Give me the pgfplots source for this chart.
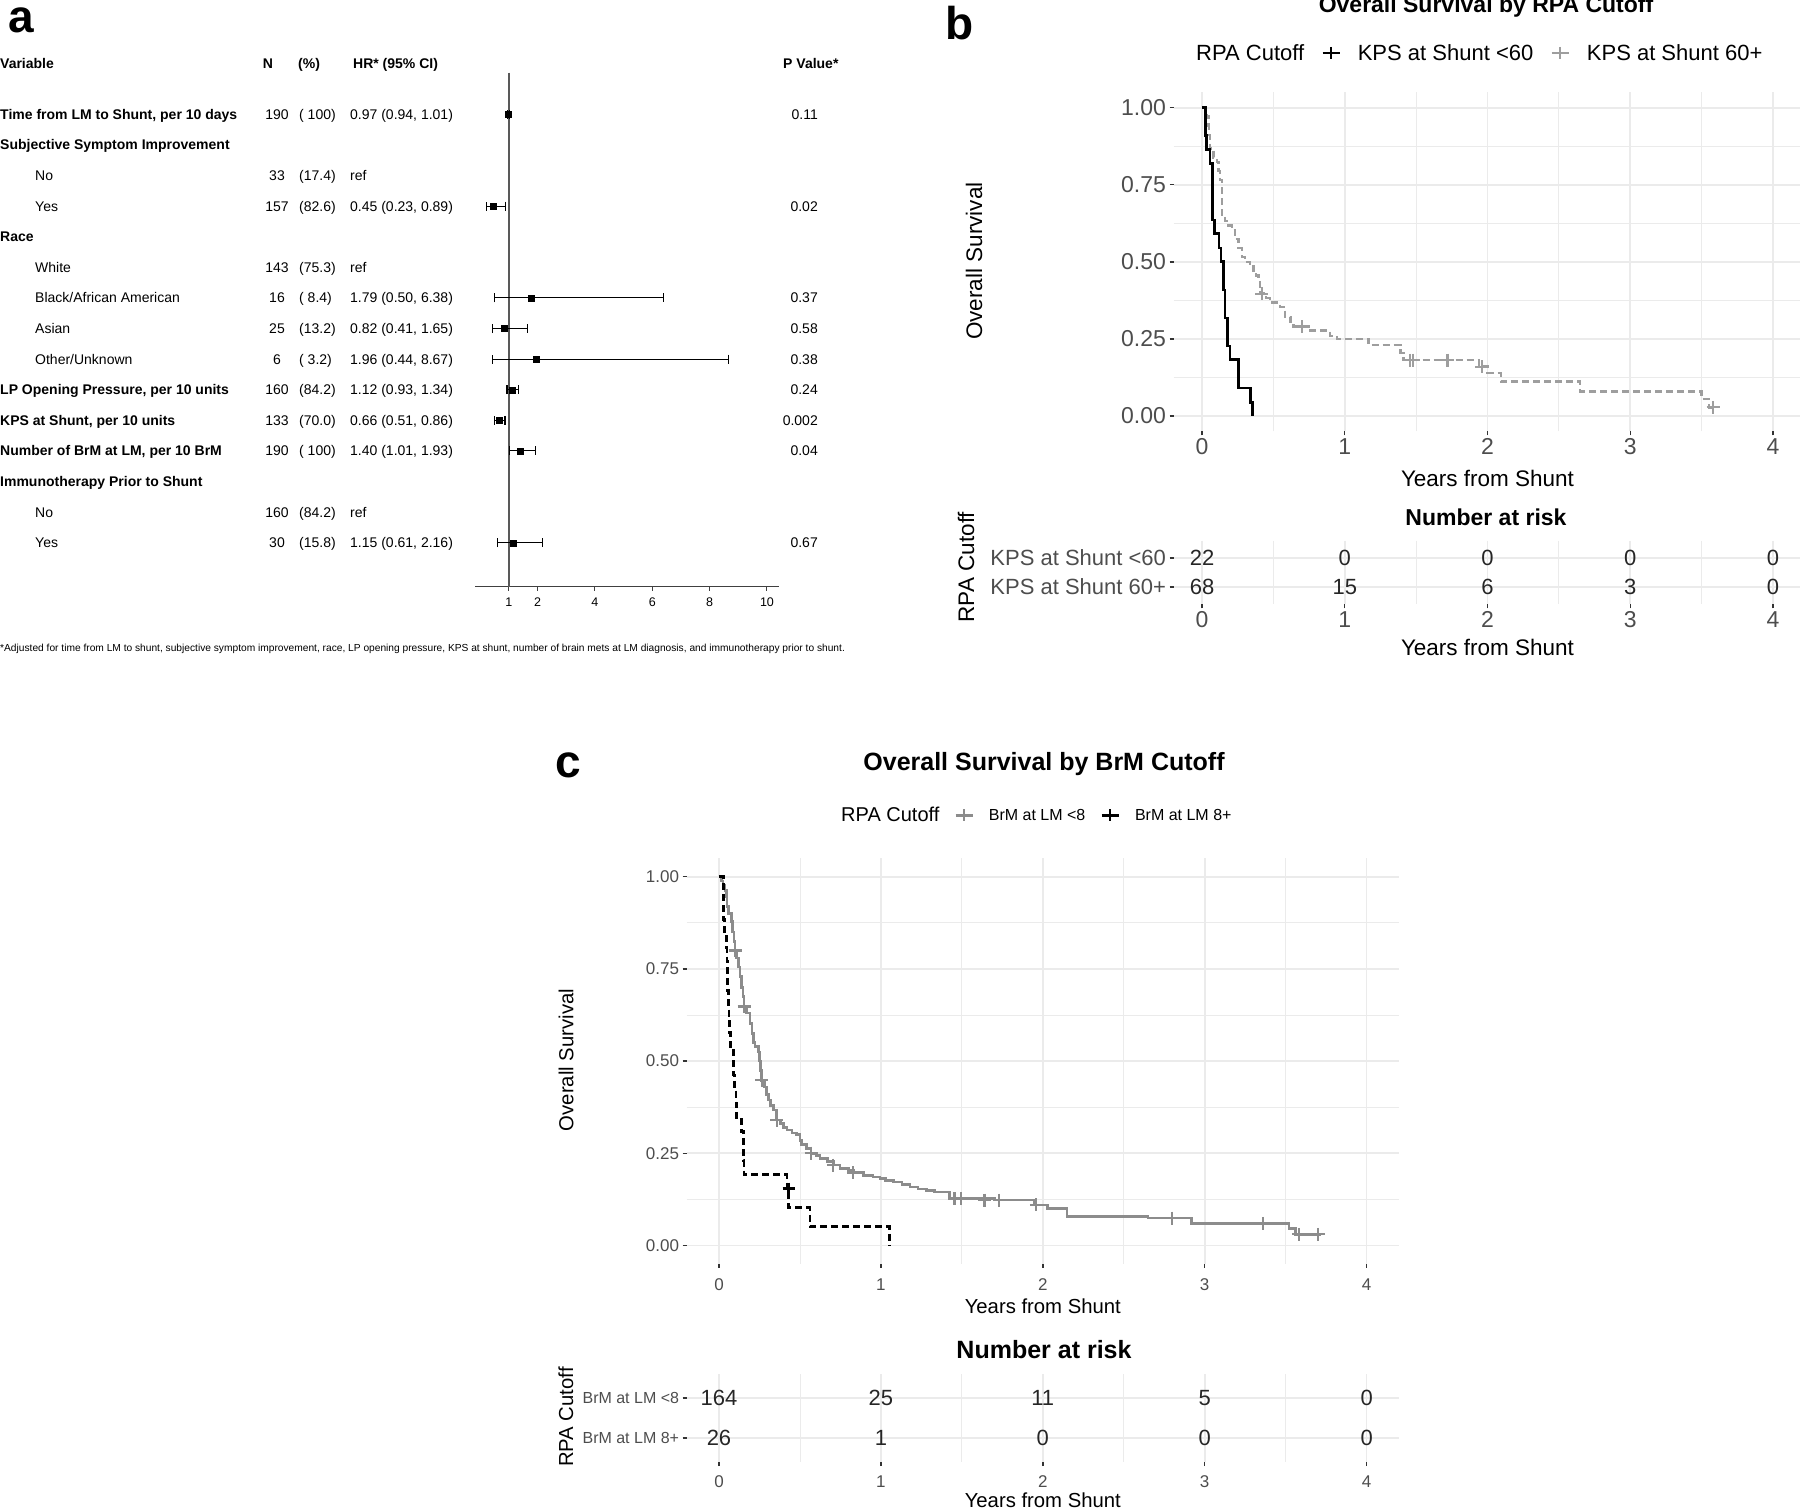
\documentclass[border=0pt]{standalone}
\usepackage{fontspec}
\setmainfont{Liberation Sans}
\usepackage{pgfplots}
\pgfplotsset{compat=1.18}
\usepackage{pgfplotstable}
\definecolor{gridc}{HTML}{EBEBEB}
\definecolor{gb}{HTML}{9E9E9E}
\definecolor{gc}{HTML}{8C8C8C}
\definecolor{axt}{HTML}{4D4D4D}
\newcommand\fs[1]{\fontsize{#1}{#1}\selectfont}

\pgfplotstableread{
hr row ep em
0.97 0 0.04 0.03
0.45 -3 0.44 0.22
1.79 -6 4.59 1.29
0.82 -7 0.83 0.41
1.96 -8 6.71 1.52
1.12 -9 0.22 0.19
0.66 -10 0.20 0.15
1.40 -11 0.53 0.39
1.15 -14 1.01 0.54
}\forestdata

\pgfplotstableread{
t s
0 1
0.026 0.909
0.033 0.864
0.056 0.818
0.072 0.636
0.086 0.591
0.119 0.545
0.133 0.500
0.150 0.409
0.161 0.318
0.178 0.227
0.196 0.182
0.255 0.091
0.337 0.045
0.355 0
}\kmbA

\pgfplotstableread{
t s
0 1
0.02 0.985
0.03 0.971
0.044 0.941
0.05 0.912
0.056 0.868
0.079 0.838
0.103 0.824
0.115 0.794
0.126 0.765
0.138 0.647
0.16 0.632
0.184 0.618
0.21 0.603
0.231 0.574
0.255 0.544
0.278 0.515
0.30 0.50
0.337 0.485
0.36 0.471
0.38 0.456
0.395 0.441
0.405 0.412
0.41 0.397
0.45 0.383
0.477 0.368
0.547 0.353
0.582 0.322
0.62 0.306
0.641 0.29
0.746 0.277
0.898 0.26
0.944 0.25
1.166 0.23
1.39 0.205
1.41 0.181
1.94 0.16
2.0 0.139
2.096 0.112
2.65 0.08
3.5 0.055
3.55 0.028
3.58 0.028
}\kmbB

\pgfplotstableread{
t s
0.418 0.397
0.70 0.29
1.457 0.181
1.48 0.181
1.72 0.181
1.96 0.16
3.58 0.028
}\kmbBc

\pgfplotstableread{
t s
0 1
0.015 0.988
0.025 0.976
0.037 0.963
0.045 0.945
0.05 0.92
0.058 0.90
0.078 0.878
0.085 0.85
0.092 0.825
0.099 0.80
0.11 0.78
0.12 0.755
0.13 0.73
0.14 0.70
0.148 0.675
0.155 0.648
0.17 0.63
0.192 0.602
0.205 0.575
0.215 0.55
0.222 0.539
0.243 0.525
0.25 0.50
0.257 0.475
0.264 0.448
0.28 0.43
0.295 0.41
0.305 0.394
0.32 0.38
0.336 0.367
0.357 0.34
0.38 0.33
0.40 0.32
0.419 0.313
0.45 0.305
0.48 0.30
0.50 0.285
0.511 0.273
0.54 0.262
0.569 0.25
0.60 0.243
0.624 0.236
0.67 0.227
0.706 0.218
0.747 0.209
0.80 0.203
0.83 0.197
0.891 0.19
0.95 0.185
0.994 0.181
1.03 0.176
1.076 0.172
1.13 0.165
1.179 0.158
1.23 0.153
1.28 0.149
1.33 0.145
1.425 0.127
1.70 0.123
1.95 0.11
2.03 0.10
2.15 0.079
2.65 0.074
2.92 0.06
3.52 0.045
3.56 0.03
3.72 0.03
}\kmcA

\pgfplotstableread{
t s
0.099 0.80
0.155 0.648
0.264 0.448
0.357 0.34
0.569 0.25
0.706 0.218
0.83 0.197
1.455 0.127
1.496 0.127
1.64 0.123
1.73 0.123
1.96 0.11
2.8 0.074
3.36 0.06
3.58 0.03
3.70 0.03
}\kmcAc

\pgfplotstableread{
t s
0 1
0.027 0.885
0.035 0.846
0.047 0.808
0.05 0.769
0.052 0.731
0.055 0.692
0.058 0.654
0.062 0.615
0.066 0.577
0.07 0.538
0.088 0.500
0.092 0.462
0.098 0.423
0.105 0.385
0.11 0.346
0.14 0.308
0.15 0.269
0.152 0.231
0.155 0.192
0.42 0.154
0.43 0.103
0.562 0.051
1.055 0
}\kmcB

\pgfplotstableread{
x y lab
0 1 22
1 1 0
2 1 0
3 1 0
4 1 0
0 2 68
1 2 15
2 2 6
3 2 3
4 2 0
}\riskb

\pgfplotstableread{
x y lab
0 1 164
1 1 25
2 1 11
3 1 5
4 1 0
0 2 26
1 2 1
2 2 0
3 2 0
4 2 0
}\riskc

\pgfplotsset{
  kmstyle/.style={scale only axis, anchor=south west, axis line style={draw=none},
    grid=both, major grid style={color=gridc, line width=1.6pt},
    minor grid style={color=gridc, line width=0.8pt},
    minor x tick num=1, minor y tick num=1, minor tick length=0pt,
    major tick length=4pt, tick align=outside, xtick pos=left, ytick pos=left,
    tick style={color=black!80, line width=1.4pt},
    xmin=-0.2, xmax=4.2, xtick={0,1,2,3,4}, xticklabels={0,1,2,3,4},
    clip=false, legend cell align=left},
}
\tikzset{tl/.style={anchor=base west, inner sep=0pt, font=\fs{14}},
  tlb/.style={anchor=base west, inner sep=0pt, font=\bfseries\fs{14}},
  tc/.style={anchor=base, inner sep=0pt, font=\fs{14}},
  tr/.style={anchor=base east, inner sep=0pt, font=\fs{14}}}

\begin{document}
\begin{tikzpicture}
\path[use as bounding box] (0pt,0pt) rectangle (1800pt,-1509pt);

% ---------------- panel a ----------------
\node[anchor=base west, inner sep=0pt, font=\bfseries\fs{46}] at (8pt,-33pt) {a};
\node[tlb] at (0pt,-68.3pt) {Variable};
\node[anchor=base, inner sep=0pt, font=\bfseries\fs{14}] at (268pt,-68.3pt) {N};
\node[tlb] at (298pt,-68.3pt) {(\%)};
\node[tlb] at (353pt,-68.3pt) {HR* (95\% CI)};
\node[tlb] at (783pt,-68.3pt) {P Value*};
% row 0
\node[tlb] at (0pt,-119.3pt) {Time from LM to Shunt, per 10 days};
\node[tc] at (277pt,-119.3pt) {190};
\node[tl] at (299pt,-119.3pt) {( 100)};
\node[tl] at (350pt,-119.3pt) {0.97 (0.94, 1.01)};
\node[tr] at (818pt,-119.3pt) {0.11};
% row 1
\node[tlb] at (0pt,-149.9pt) {Subjective Symptom Improvement};
% row 2
\node[tl] at (35pt,-180.5pt) {No};
\node[tc] at (277pt,-180.5pt) {33};
\node[tl] at (299pt,-180.5pt) {(17.4)};
\node[tl] at (350pt,-180.5pt) {ref};
% row 3
\node[tl] at (35pt,-211.1pt) {Yes};
\node[tc] at (277pt,-211.1pt) {157};
\node[tl] at (299pt,-211.1pt) {(82.6)};
\node[tl] at (350pt,-211.1pt) {0.45 (0.23, 0.89)};
\node[tr] at (818pt,-211.1pt) {0.02};
% row 4
\node[tlb] at (0pt,-241.7pt) {Race};
% row 5
\node[tl] at (35pt,-272.3pt) {White};
\node[tc] at (277pt,-272.3pt) {143};
\node[tl] at (299pt,-272.3pt) {(75.3)};
\node[tl] at (350pt,-272.3pt) {ref};
% row 6
\node[tl] at (35pt,-302.9pt) {Black/African American};
\node[tc] at (277pt,-302.9pt) {16};
\node[tl] at (299pt,-302.9pt) {( 8.4)};
\node[tl] at (350pt,-302.9pt) {1.79 (0.50, 6.38)};
\node[tr] at (818pt,-302.9pt) {0.37};
% row 7
\node[tl] at (35pt,-333.5pt) {Asian};
\node[tc] at (277pt,-333.5pt) {25};
\node[tl] at (299pt,-333.5pt) {(13.2)};
\node[tl] at (350pt,-333.5pt) {0.82 (0.41, 1.65)};
\node[tr] at (818pt,-333.5pt) {0.58};
% row 8
\node[tl] at (35pt,-364.1pt) {Other/Unknown};
\node[tc] at (277pt,-364.1pt) {6};
\node[tl] at (299pt,-364.1pt) {( 3.2)};
\node[tl] at (350pt,-364.1pt) {1.96 (0.44, 8.67)};
\node[tr] at (818pt,-364.1pt) {0.38};
% row 9
\node[tlb] at (0pt,-394.7pt) {LP Opening Pressure, per 10 units};
\node[tc] at (277pt,-394.7pt) {160};
\node[tl] at (299pt,-394.7pt) {(84.2)};
\node[tl] at (350pt,-394.7pt) {1.12 (0.93, 1.34)};
\node[tr] at (818pt,-394.7pt) {0.24};
% row 10
\node[tlb] at (0pt,-425.3pt) {KPS at Shunt, per 10 units};
\node[tc] at (277pt,-425.3pt) {133};
\node[tl] at (299pt,-425.3pt) {(70.0)};
\node[tl] at (350pt,-425.3pt) {0.66 (0.51, 0.86)};
\node[tr] at (818pt,-425.3pt) {0.002};
% row 11
\node[tlb] at (0pt,-455.9pt) {Number of BrM at LM, per 10 BrM};
\node[tc] at (277pt,-455.9pt) {190};
\node[tl] at (299pt,-455.9pt) {( 100)};
\node[tl] at (350pt,-455.9pt) {1.40 (1.01, 1.93)};
\node[tr] at (818pt,-455.9pt) {0.04};
% row 12
\node[tlb] at (0pt,-486.5pt) {Immunotherapy Prior to Shunt};
% row 13
\node[tl] at (35pt,-517.1pt) {No};
\node[tc] at (277pt,-517.1pt) {160};
\node[tl] at (299pt,-517.1pt) {(84.2)};
\node[tl] at (350pt,-517.1pt) {ref};
% row 14
\node[tl] at (35pt,-547.7pt) {Yes};
\node[tc] at (277pt,-547.7pt) {30};
\node[tl] at (299pt,-547.7pt) {(15.8)};
\node[tl] at (350pt,-547.7pt) {1.15 (0.61, 2.16)};
\node[tr] at (818pt,-547.7pt) {0.67};
\node[anchor=base west, inner sep=0pt, font=\fs{10.2}] at (0pt,-651.5pt) {*Adjusted for time from LM to shunt, subjective symptom improvement, race, LP opening pressure, KPS at shunt, number of brain mets at LM diagnosis, and immunotherapy prior to shunt.};

\begin{axis}[at={(475pt,-586.5pt)}, anchor=south west, scale only axis,
  width=304pt, height=513.8pt, xmin=-0.185, xmax=10.42, ymin=-15.43, ymax=1.36,
  axis x line=bottom, axis y line=none, x axis line style={-, line width=1.2pt, color=black!75},
  xtick={1,2,4,6,8,10}, xticklabels={1,2,4,6,8,10}, tick align=outside, major tick length=4pt,
  tick style={line width=1pt, color=black!75}, xticklabel style={font=\fs{12.5}, yshift=-4pt},
  clip=false]
\addplot[black!65, line width=1.3pt, forget plot] coordinates {(1,1.36) (1,-15.43)};
\addplot[only marks, mark=square*, mark size=3pt, black,
  error bars/.cd, x dir=both, x explicit, error mark=|,
  error bar style={line width=1.1pt, black},
  error mark options={line width=1.1pt, mark size=4.5pt, black}]
  table[x=hr, y=row, x error plus=ep, x error minus=em] {\forestdata};
\end{axis}

% ---------------- panel b ----------------
\node[anchor=base west, inner sep=0pt, font=\bfseries\fs{46}] at (945pt,-40pt) {b};
\begin{axis}[kmstyle, at={(1173.5pt,-431.4pt)}, width=628pt, height=339.1pt,
  ymin=-0.05, ymax=1.05, ytick={0,0.25,0.5,0.75,1}, yticklabels={0.00,0.25,0.50,0.75,1.00},
  ticklabel style={font=\fs{23}, text=axt},
  xlabel={Years from Shunt}, ylabel={Overall Survival}, label style={font=\fs{22.5}},
  xlabel style={at={(axis description cs:0.5,-0.1374)}, anchor=center},
  ylabel style={at={(axis description cs:-0.3177,0.5025)}, anchor=center},
  title={Overall Survival by RPA Cutoff},
  title style={font=\bfseries\fs{23}, at={(axis description cs:0.4976,1.2177)}, anchor=base},
  legend style={at={(axis description cs:0.0088,1.116)}, anchor=west, draw=none, fill=none,
    inner sep=0pt, font=\fs{22}, nodes={inner sep=0pt},
    /tikz/every even column/.append style={column sep=17pt},
    /tikz/every odd column/.append style={column sep=17pt}},
  legend columns=3]
\addlegendimage{empty legend}\addlegendentry{RPA Cutoff}
\addlegendimage{black, line width=2.5pt, mark=+, mark size=6pt}\addlegendentry{KPS at Shunt <60}
\addlegendimage{gb, line width=2.5pt, dash pattern=on 4pt off 3pt, mark=+, mark size=6pt, mark options={solid}}\addlegendentry{KPS at Shunt 60+}
\addplot[forget plot, const plot mark left, gb, line width=2.4pt, dash pattern=on 7pt off 4pt] table[x=t,y=s] {\kmbB};
\addplot[forget plot, only marks, mark=+, mark size=6.5pt, gb, mark options={line width=2.2pt, solid}] table[x=t,y=s] {\kmbBc};
\addplot[forget plot, const plot mark left, black, line width=2.8pt] table[x=t,y=s] {\kmbA};
\end{axis}

\begin{axis}[kmstyle, at={(1173.5pt,-604.4pt)}, width=628pt, height=63.8pt,
  ymin=0.4, ymax=2.6, y dir=reverse, ytick={1,2}, minor y tick num=0,
  yticklabels={KPS at Shunt <60, KPS at Shunt 60+},
  ticklabel style={font=\fs{23}, text=axt}, yticklabel style={font=\fs{22}},
  xlabel={Years from Shunt}, ylabel={RPA Cutoff}, label style={font=\fs{22.5}},
  xlabel style={at={(axis description cs:0.5,-0.668)}, anchor=center},
  ylabel style={at={(axis description cs:-0.3304,0.586)}, anchor=center},
  title={Number at risk},
  title style={font=\bfseries\fs{23}, at={(axis description cs:0.4976,1.268)}, anchor=center}]
\addplot[draw=none, mark=none, nodes near coords, point meta=explicit symbolic,
  every node near coord/.append style={anchor=center, font=\fs{22}, inner sep=0pt, text=black!85}]
  table[x=x, y=y, meta=lab] {\riskb};
\end{axis}

% ---------------- panel c ----------------
\node[anchor=base west, inner sep=0pt, font=\bfseries\fs{46}] at (555pt,-777pt) {c};
\begin{axis}[kmstyle, at={(686.6pt,-1263.8pt)}, width=712.4pt, height=405.5pt,
  ymin=-0.05, ymax=1.05, ytick={0,0.25,0.5,0.75,1}, yticklabels={0.00,0.25,0.50,0.75,1.00},
  ticklabel style={font=\fs{17}, text=axt}, xticklabel style={yshift=-7pt},
  xlabel={Years from Shunt}, ylabel={Overall Survival}, label style={font=\fs{20.3}},
  xlabel style={at={(axis description cs:0.5,-0.1058)}, anchor=center},
  ylabel style={at={(axis description cs:-0.1693,0.5026)}, anchor=center},
  title={Overall Survival by BrM Cutoff},
  title style={font=\bfseries\fs{25}, at={(axis description cs:0.5017,1.218)}, anchor=center},
  legend style={at={(axis description cs:0.1957,1.106)}, anchor=west, draw=none, fill=none,
    inner sep=0pt, font=\fs{16}, nodes={inner sep=0pt},
    /tikz/every even column/.append style={column sep=15pt},
    /tikz/every odd column/.append style={column sep=15pt}},
  legend columns=3]
\addlegendimage{empty legend}\addlegendentry{\fs{20}RPA Cutoff}
\addlegendimage{gc, line width=2.4pt, mark=+, mark size=6pt}\addlegendentry{BrM at LM <8}
\addlegendimage{black, line width=2.6pt, dash pattern=on 4pt off 3pt, mark=+, mark size=6pt, mark options={solid}}\addlegendentry{BrM at LM 8+}
\addplot[forget plot, const plot mark left, gc, line width=2.6pt] table[x=t,y=s] {\kmcA};
\addplot[forget plot, only marks, mark=+, mark size=6.5pt, gc, mark options={line width=2.2pt}] table[x=t,y=s] {\kmcAc};
\addplot[forget plot, const plot mark left, black, line width=2.8pt, dash pattern=on 7pt off 4pt] table[x=t,y=s] {\kmcB};
\addplot[forget plot, only marks, mark=+, mark size=6pt, black, mark options={line width=2.6pt, solid}] coordinates {(0.43,0.154)};
\end{axis}

\begin{axis}[kmstyle, at={(686.6pt,-1462pt)}, width=712.4pt, height=88pt,
  ymin=0.4, ymax=2.6, y dir=reverse, ytick={1,2}, minor y tick num=0,
  yticklabels={BrM at LM <8, BrM at LM 8+},
  ticklabel style={font=\fs{17}, text=axt}, xticklabel style={yshift=-6pt}, yticklabel style={font=\fs{16}},
  xlabel={Years from Shunt}, ylabel={RPA Cutoff}, label style={font=\fs{20.3}},
  xlabel style={at={(axis description cs:0.5,-0.432)}, anchor=center},
  ylabel style={at={(axis description cs:-0.1693,0.511)}, anchor=center},
  title={Number at risk},
  title style={font=\bfseries\fs{25}, at={(axis description cs:0.5017,1.204)}, anchor=center}]
\addplot[draw=none, mark=none, nodes near coords, point meta=explicit symbolic,
  every node near coord/.append style={anchor=center, font=\fs{22}, inner sep=0pt, text=black!85}]
  table[x=x, y=y, meta=lab] {\riskc};
\end{axis}
\end{tikzpicture}
\end{document}
